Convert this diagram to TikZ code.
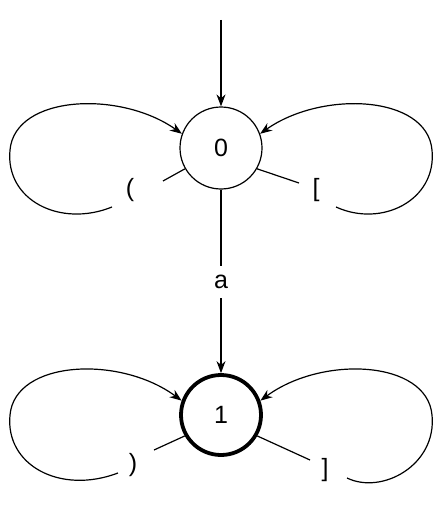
\documentclass[tikz,border=0pt]{standalone}
\usepackage{fontspec}
\setmainfont{Liberation Sans}
\usetikzlibrary{arrows.meta}
\begin{document}
\begin{tikzpicture}[x=1pt,y=-1pt,
  st/.style={circle,draw,minimum size=82pt,inner sep=0pt,font=\fontsize{25}{27}\selectfont},
  lb/.style={inner sep=1pt,font=\fontsize{25}{27}\selectfont},
  arr/.style={-{Stealth[length=12pt,width=9pt]},line width=1.2pt},
  ln/.style={line width=1.2pt}]
\useasboundingbox (0,0) rectangle (442,511);
\node[st,line width=1.2pt] (n0) at (221,148) {0};
\node[st,line width=3.8pt,minimum size=80pt] (n1) at (221,415) {1};
\coordinate (s) at (221,20);
\draw[arr] (s) -- (n0);
% edge a
\node[lb,inner sep=9pt] (la) at (221,282) {a};
\draw[ln] (n0) -- (la);
\draw[arr] (la) -- (n1);
% loops for node 0
\node[lb] (l0a) at (130,190) {(};
\node[lb] (l0b) at (316,190) {[};
\coordinate (c0a) at (112,207);
\coordinate (c0b) at (336,207);
\draw[ln] (n0.-150) -- (163,181);
\draw[arr] (c0a) .. controls (60,228) and (5,200) .. (10,150) .. controls (15,95) and (120,90) .. (n0.160);
\draw[ln] (n0.-30) -- (299,183);
\draw[arr] (c0b) .. controls (382,228) and (437,200) .. (432,150) .. controls (427,95) and (322,90) .. (n0.20);
% loops for node 1
\node[lb] (l1a) at (133,465) {)};
\node[lb] (l1b) at (325,470) {]};
\coordinate (c1a) at (118,473);
\coordinate (c1b) at (347,478);
\draw[ln] (n1.-150) -- (154,450);
\draw[arr] (c1a) .. controls (60,495) and (5,465) .. (10,415) .. controls (15,360) and (120,355) .. (n1.160);
\draw[ln] (n1.-30) -- (310,460);
\draw[arr] (c1b) .. controls (382,495) and (437,465) .. (432,415) .. controls (427,360) and (322,355) .. (n1.20);
\end{tikzpicture}
\end{document}
